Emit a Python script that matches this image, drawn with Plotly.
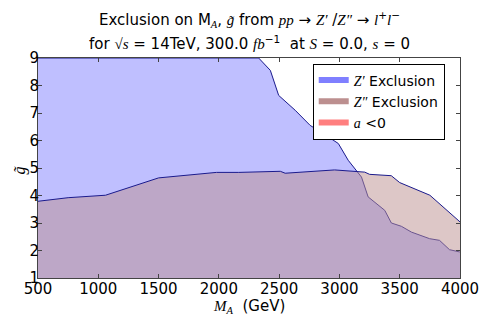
import plotly.graph_objects as go

# Z'' exclusion boundary (lower curve)
mass_zpp = [500, 750, 1060, 1500, 1980, 2165, 2510, 2550, 2960, 3210, 3250, 3430, 3500, 3750, 4000]
g_zpp = [3.79, 3.92, 4.01, 4.64, 4.84, 4.84, 4.88, 4.81, 4.93, 4.85, 4.77, 4.72, 4.47, 4.01, 3.04]

# Z' exclusion boundary (upper curve, clipped at 9)
mass_zp = [500, 2330, 2427, 2496, 2633, 2757, 2853, 2991, 3073, 3142, 3183, 3238, 3376,
           3431, 3514, 3597, 3748, 3830, 3913, 3995, 4000]
g_zp = [9.0, 9.0, 8.55, 7.64, 7.10, 6.55, 6.29, 5.89, 5.28, 4.92, 4.67, 3.95, 3.46,
        3.0, 2.88, 2.67, 2.43, 2.37, 2.03, 1.95, 1.95]

x_ticks = [500, 1000, 1500, 2000, 2500, 3000, 3500, 4000]
y_ticks = [1, 2, 3, 4, 5, 6, 7, 8, 9]

SERIF = "Liberation Serif"
SANS = "DejaVu Sans"

def m(t):
    return f"<span style='font-family:{SERIF}'><i>{t}</i></span>"

fig = go.Figure()
fig.add_trace(go.Scatter(x=mass_zp, y=g_zp, mode="lines", fill="tozeroy",
                         fillcolor="rgba(0,0,255,0.25)", line=dict(color="#1a1a8c", width=1),
                         showlegend=False, hoverinfo="skip"))
fig.add_trace(go.Scatter(x=mass_zpp, y=g_zpp, mode="lines", fill="tozeroy",
                         fillcolor="rgba(188,143,143,0.5)", line=dict(color="#1a1a8c", width=1),
                         showlegend=False, hoverinfo="skip"))
# legend proxies
for name, col in [(m("Z′") + " Exclusion", "rgba(0,0,255,0.5)"),
                  (m("Z″") + " Exclusion", "rgb(188,143,143)"),
                  (m("a") + " &lt;0", "rgba(255,0,0,0.5)")]:
    fig.add_trace(go.Scatter(x=[None], y=[None], mode="none", fill="toself",
                             fillcolor=col, name=name, showlegend=True))

NB = "&nbsp;"
title1 = ("Exclusion on M<sub>" + m("A") + "</sub>, " + m("g̃") + " from " + m("pp") + " → " + m("Z′") + " /" + m("Z″")
          + " → " + m("l") + "<sup>+</sup>" + m("l") + "<sup>−</sup>")
title2 = ("for " + m("√s") + NB + "=" + NB + "14TeV, 300.0" + NB + m("fb") + "<sup>−1</sup>" + NB + NB + "at "
          + m("S") + NB + "=" + NB + "0.0, " + m("s") + NB + "=" + NB + "0")

fig.update_layout(
    width=491, height=327,
    margin=dict(l=38, r=29, t=57.7, b=49.3),
    paper_bgcolor="white", plot_bgcolor="white",
    font=dict(family=SANS, size=15, color="black"),
    legend=dict(x=0.651, y=0.975, xanchor="left", yanchor="top",
                bordercolor="black", borderwidth=1, bgcolor="white",
                font=dict(size=14), tracegroupgap=0, itemwidth=30),
    xaxis=dict(range=[500, 4000], tickvals=x_ticks, ticks="inside", ticklen=4,
               showline=True, linecolor="#444", linewidth=1, mirror="ticks",
               showgrid=False, zeroline=False, tickfont=dict(size=15),
               ticklabelstandoff=-3),
    yaxis=dict(range=[1, 9], tickvals=y_ticks, ticks="inside", ticklen=4,
               showline=True, linecolor="#444", linewidth=1, mirror="ticks",
               showgrid=False, zeroline=False, tickfont=dict(size=15),
               ticklabelstandoff=-5),
    annotations=[
        dict(text=title1, xref="paper", yref="paper", x=0.5, y=(277.7 - 19) / 220,
             xanchor="center", yanchor="middle", showarrow=False, font=dict(size=15)),
        dict(text=title2, xref="paper", yref="paper", x=0.5, y=(277.7 - 43) / 220,
             xanchor="center", yanchor="middle", showarrow=False, font=dict(size=15)),
        dict(text=m("M") + "<sub>" + m("A") + "</sub>" + NB + NB + "(GeV)", xref="paper", yref="paper",
             x=0.5, y=(277.7 - 306) / 220, xanchor="center", yanchor="middle", showarrow=False,
             font=dict(size=15)),
        dict(text=m("g̃"), xref="paper", yref="paper", x=(20 - 38) / 424, y=(277.7 - 170) / 220,
             xanchor="center", yanchor="middle", showarrow=False, textangle=-90,
             font=dict(size=16)),
    ],
)
fig.write_html("out.html", config={"displayModeBar": False},
               post_script="document.body.style.margin='0';")
